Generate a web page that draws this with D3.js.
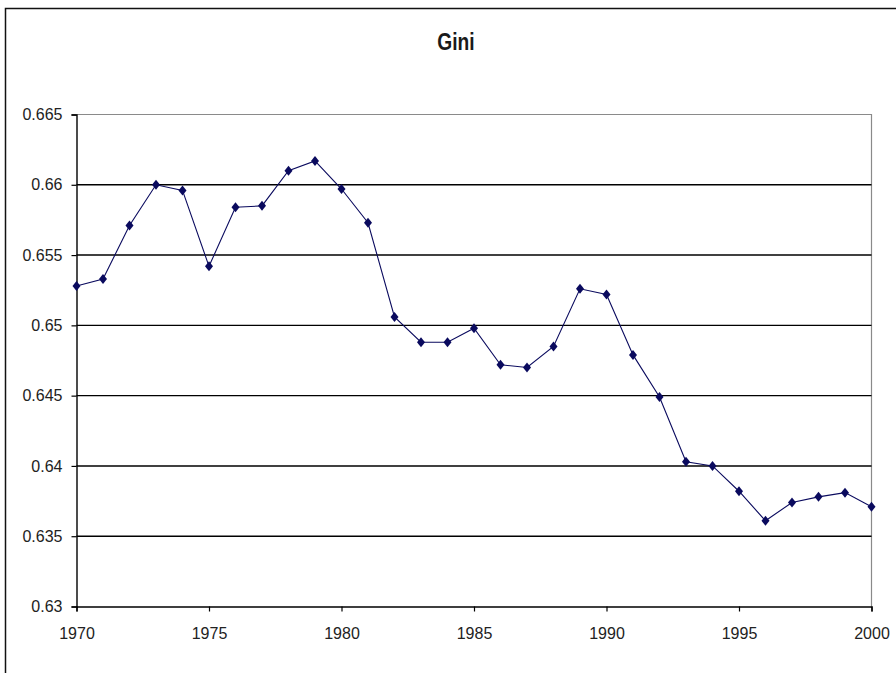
<!DOCTYPE html>
<html><head><meta charset="utf-8">
<script src="https://cdn.jsdelivr.net/npm/d3@7"></script>
<style>
html,body{margin:0;padding:0;background:#fff;}
svg{display:block;}
</style></head>
<body>
<script>
const years = [1970,1971,1972,1973,1974,1975,1976,1977,1978,1979,1980,1981,1982,1983,1984,1985,1986,1987,1988,1989,1990,1991,1992,1993,1994,1995,1996,1997,1998,1999,2000];
const gini = [0.6528,0.6533,0.6571,0.6600,0.6596,0.6542,0.6584,0.6585,0.6610,0.6617,0.6597,0.6573,0.6506,0.6488,0.6488,0.6498,0.6472,0.6470,0.6485,0.6526,0.6522,0.6479,0.6449,0.6403,0.6400,0.6382,0.6361,0.6374,0.6378,0.6381,0.6371];
const yTicks = [0.63,0.635,0.64,0.645,0.65,0.655,0.66,0.665];
const xTicks = [1970,1975,1980,1985,1990,1995,2000];
const title = "Gini";

const W = 896, H = 673;
const svg = d3.select("body").append("svg").attr("width", W).attr("height", H);

// outer chart border (cropped on right/bottom)
svg.append("path").attr("d", `M5.5,${H} L5.5,8.5 L${W},8.5`).attr("fill","none").attr("stroke","#111").attr("stroke-width",1.5);

const x = d3.scaleLinear().domain([1970,2000]).range([76.5,871.5]);
const y = d3.scaleLinear().domain([0.63,0.665]).range([606.5,114.5]);

// plot frame top/right gray
svg.append("path").attr("d", `M${x(1970)},${y(0.665)} L${x(2000)},${y(0.665)} L${x(2000)},${y(0.63)}`)
  .attr("fill","none").attr("stroke","#8a8a8a").attr("stroke-width",1.2);

// gridlines
svg.append("g").selectAll("line").data(yTicks.filter(v=>v>0.63 && v<0.665)).join("line")
  .attr("x1", x(1970)).attr("x2", x(2000)).attr("y1", d=>y(d)).attr("y2", d=>y(d))
  .attr("stroke","#000").attr("stroke-width",1.4);

const tickFont = "Arial, 'Liberation Sans', sans-serif";
// y axis
const yAxis = svg.append("g").attr("transform",`translate(${x(1970)},0)`)
  .call(d3.axisLeft(y).tickValues(yTicks).tickFormat(d=>String(+d.toFixed(3))).tickSize(5).tickPadding(9));
yAxis.select(".domain").attr("stroke","#000").attr("stroke-width",1.4);
yAxis.selectAll(".tick line").attr("stroke","#000").attr("stroke-width",1.2);
yAxis.selectAll("text").attr("font-family",tickFont).attr("font-size",16).attr("fill","#222");

// x axis
const xAxis = svg.append("g").attr("transform",`translate(0,${y(0.63)})`)
  .call(d3.axisBottom(x).tickValues(xTicks).tickFormat(d3.format("d")).tickSize(5).tickPadding(16));
xAxis.select(".domain").attr("stroke","#000").attr("stroke-width",1.4);
xAxis.selectAll(".tick line").attr("stroke","#000").attr("stroke-width",1.2);
xAxis.selectAll("text").attr("font-family",tickFont).attr("font-size",16).attr("fill","#222");

// title (condensed face emulated with a horizontal squeeze)
svg.append("text").attr("transform","translate(456,50) scale(0.8,1)").attr("text-anchor","middle")
  .attr("font-family","'Liberation Sans', Arial, sans-serif")
  .attr("font-weight","bold").attr("font-size",24).attr("fill","#1a1a1a").text(title);

const data = years.map((yr,i)=>({yr, v:gini[i]}));
const color = "#0a0a5e";
svg.append("path").datum(data)
  .attr("d", d3.line().x(d=>x(d.yr)).y(d=>y(d.v)))
  .attr("fill","none").attr("stroke",color).attr("stroke-width",1.1);

svg.append("g").selectAll("path").data(data).join("path")
  .attr("transform", d=>`translate(${x(d.yr)},${y(d.v)})`)
  .attr("d","M0,-5 L4,0 L0,5 L-4,0 Z")
  .attr("fill",color);
</script>
</body></html>
